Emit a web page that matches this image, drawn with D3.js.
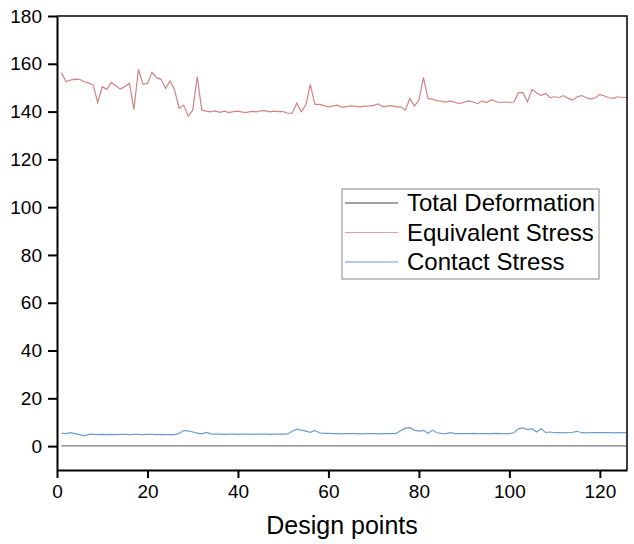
<!DOCTYPE html>
<meta charset="utf-8">
<style>
body { margin: 0; background: #fff; }
text { font-family: "Liberation Sans", Arial, sans-serif; fill: #000; }
.axis path, .axis line { stroke: #000; }
</style>
<body>
<script src="https://cdn.jsdelivr.net/npm/d3@7"></script>
<script>
// data, design points 1..126
var equivalentStress = [156.3,152.5,153.2,153.6,153.5,152.5,152.0,151.1,143.7,150.4,
  149.3,152.2,150.8,149.4,150.5,151.8,140.9,157.7,151.4,151.8,
  156.4,154.2,153.5,149.7,152.8,149.0,141.3,142.7,138.1,140.6,
  154.6,140.6,140.2,139.9,140.3,139.7,140.2,139.6,140.0,140.2,
  139.8,139.7,140.1,139.9,140.3,140.4,139.9,140.2,140.0,140.0,
  139.3,139.3,143.5,139.9,142.7,151.4,143.0,143.0,142.5,142.0,
  142.4,142.7,141.8,142.1,142.4,142.2,142.0,142.3,142.4,142.6,
  143.2,142.0,142.3,142.5,142.0,142.0,140.6,145.5,142.3,144.8,
  154.3,145.5,145.2,144.5,144.4,144.0,144.5,143.8,143.3,143.9,
  144.5,144.0,143.3,144.5,143.8,145.0,144.2,143.8,144.0,143.8,
  144.0,147.9,147.9,144.0,149.3,147.9,146.7,147.6,145.8,146.2,
  145.9,146.7,145.5,144.8,146.2,146.7,145.8,145.2,145.8,147.2,
  146.5,145.8,145.5,146.2,145.9,145.9];

var contactStress = [5.3,5.2,5.6,5.2,4.8,4.3,4.9,4.9,4.8,4.9,
  4.8,4.9,4.8,4.9,4.9,4.8,4.9,4.9,4.8,4.9,
  4.9,4.8,4.9,4.8,4.8,4.8,5.3,6.5,6.4,5.9,
  5.4,5.1,5.7,5.1,5.0,5.0,4.9,5.0,5.0,4.9,
  5.0,5.0,4.9,5.0,5.0,5.0,4.9,5.0,5.0,5.0,
  5.1,6.2,7.1,6.7,6.3,5.8,6.6,5.6,5.3,5.3,
  5.2,5.2,5.1,5.2,5.2,5.2,5.1,5.2,5.2,5.2,
  5.1,5.2,5.2,5.2,5.3,6.5,7.5,7.7,6.7,6.3,
  6.6,5.4,6.7,5.6,5.3,5.2,5.6,5.2,5.2,5.2,
  5.2,5.3,5.2,5.2,5.2,5.2,5.3,5.2,5.2,5.2,
  5.6,7.2,7.6,6.9,7.3,5.9,7.3,5.7,5.9,5.6,
  5.7,5.5,5.6,5.8,6.2,5.6,5.5,5.6,5.6,5.6,
  5.6,5.6,5.5,5.6,5.6,5.6];

var totalDeformation = [0.1,0.1,0.1,0.1,0.1,0.1,0.1,0.1,0.1,0.1,
  0.1,0.1,0.1,0.1,0.1,0.1,0.1,0.1,0.1,0.1,
  0.1,0.1,0.1,0.1,0.1,0.1,0.1,0.1,0.1,0.1,
  0.1,0.1,0.1,0.1,0.1,0.1,0.1,0.1,0.1,0.1,
  0.1,0.1,0.1,0.1,0.1,0.1,0.1,0.1,0.1,0.1,
  0.1,0.1,0.1,0.1,0.1,0.1,0.1,0.1,0.1,0.1,
  0.1,0.1,0.1,0.1,0.1,0.1,0.1,0.1,0.1,0.1,
  0.1,0.1,0.1,0.1,0.1,0.1,0.1,0.1,0.1,0.1,
  0.1,0.1,0.1,0.1,0.1,0.1,0.1,0.1,0.1,0.1,
  0.1,0.1,0.1,0.1,0.1,0.1,0.1,0.1,0.1,0.1,
  0.1,0.1,0.1,0.1,0.1,0.1,0.1,0.1,0.1,0.1,
  0.1,0.1,0.1,0.1,0.1,0.1,0.1,0.1,0.1,0.1,
  0.1,0.1,0.1,0.1,0.1,0.1];

var seriesNames = ["Total Deformation", "Equivalent Stress", "Contact Stress"];
var seriesColors = ["#a0a0a0", "#d68282", "#6f9bd1"];
var legendColors = ["#444", "#e0a0a0", "#6f9bd1"];
var xMajor = [0, 20, 40, 60, 80, 100, 120];
var xMinor = [10, 30, 50, 70, 90, 110];
var yMajor = [0, 20, 40, 60, 80, 100, 120, 140, 160, 180];
var yMinor = [-10, 10, 30, 50, 70, 90, 110, 130, 150, 170];

var width = 634, height = 544;
var margin = {left: 57, right: 7, top: 16, bottom: 74};

var svg = d3.select("body").append("svg")
  .attr("width", width).attr("height", height);

var x = d3.scaleLinear().domain([0, 126]).range([margin.left, width - margin.right]);
var y = d3.scaleLinear().domain([-10, 180]).range([height - margin.bottom, margin.top]);

// lines
var line = d3.line().x(function(d, i) { return x(i + 1); }).y(function(d) { return y(d); });
var allSeries = [totalDeformation, equivalentStress, contactStress];
var widths = [1.8, 1.2, 1.2];
allSeries.forEach(function(s, k) {
  svg.append("path").datum(s)
    .attr("fill", "none")
    .attr("stroke", seriesColors[k])
    .attr("stroke-width", widths[k])
    .attr("d", line);
});

// frame (top / right)
svg.append("path")
  .attr("d", "M" + x(0) + "," + y(180) + "H" + x(126) + "V" + y(-10))
  .attr("fill", "none").attr("stroke", "#000").attr("stroke-width", 1.5);

// axes
var gx = svg.append("g").attr("class", "axis")
  .attr("transform", "translate(0," + y(-10) + ")");
gx.call(d3.axisBottom(x).tickValues(xMinor).tickSize(4).tickFormat(""));
gx.call(d3.axisBottom(x).tickValues(xMajor).tickSize(8).tickSizeOuter(0).tickPadding(7));

var gy = svg.append("g").attr("class", "axis")
  .attr("transform", "translate(" + x(0) + ",0)");
gy.call(d3.axisLeft(y).tickValues(yMinor).tickSize(5).tickFormat(""));
gy.call(d3.axisLeft(y).tickValues(yMajor).tickSize(9).tickSizeOuter(0).tickPadding(6));

svg.selectAll(".axis path").attr("stroke-width", 2);
svg.selectAll(".axis line").attr("stroke-width", 2);
svg.selectAll(".axis text").attr("font-size", 19).attr("fill", "#000")
  .style("font-family", "Liberation Sans, Arial, sans-serif");

// axis title
svg.append("text")
  .attr("x", (x(0) + x(126)) / 2).attr("y", 534)
  .attr("text-anchor", "middle").attr("font-size", 25)
  .text("Design points");

// legend
var lg = svg.append("g").attr("transform", "translate(342,189)");
lg.append("rect").attr("width", 257).attr("height", 90)
  .attr("fill", "#fff").attr("stroke", "#888").attr("stroke-width", 1);
seriesNames.forEach(function(name, i) {
  var ly = 14 + i * 29.5;
  lg.append("line").attr("x1", 3).attr("x2", 56).attr("y1", ly).attr("y2", ly)
    .attr("stroke", legendColors[i]).attr("stroke-width", 1);
  lg.append("text").attr("x", 65).attr("y", ly + 8)
    .attr("font-size", 24).text(name);
});
</script>
